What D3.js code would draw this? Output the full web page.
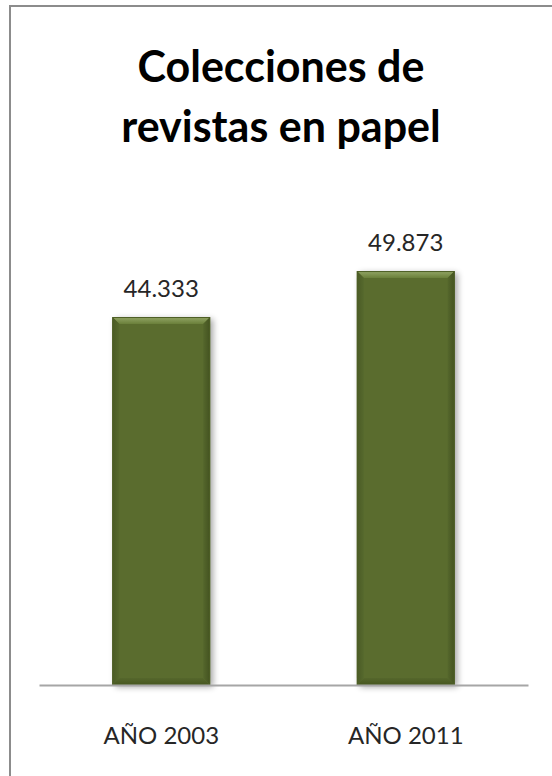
<!DOCTYPE html>
<html>
<head>
<meta charset="utf-8">
<script src="https://cdn.jsdelivr.net/npm/d3@7"></script>
<style>
  html, body { margin: 0; padding: 0; background: #fff; }
  svg { display: block; }
</style>
</head>
<body>
<svg id="chart" width="552" height="776"></svg>
<script>
// Chart data
const titleLines = ["Colecciones de", "revistas en papel"];
const categories = ["AÑO 2003", "AÑO 2011"];
const values = [44333, 49873];
const valueLabels = ["44.333", "49.873"];
const yDomainMax = 60000;

const W = 552, H = 776;
const plot = { left: 39, right: 528, top: 187, bottom: 685 };

const svg = d3.select("#chart");
const defs = svg.append("defs");

// Frame: grey rule along the top and left edges
svg.append("rect")
  .attr("x", 10).attr("y", 6)
  .attr("width", W + 10).attr("height", H + 10)
  .attr("fill", "#fff")
  .attr("stroke", "#8c8c8c")
  .attr("stroke-width", 2);

// Title
svg.append("text")
  .attr("text-anchor", "middle")
  .attr("font-family", "Lato, 'Open Sans', sans-serif")
  .attr("font-weight", "bold")
  .attr("font-size", 43)
  .attr("fill", "#000")
  .selectAll("tspan")
  .data(titleLines)
  .join("tspan")
  .attr("x", 281)
  .attr("y", (d, i) => 82 + i * 60)
  .text(d => d);

const x = d3.scaleBand()
  .domain(categories)
  .range([plot.left, plot.right])
  .paddingInner(0)
  .paddingOuter(0);

const y = d3.scaleLinear()
  .domain([0, yDomainMax])
  .range([plot.bottom, plot.top]);

const barFrac = 0.4;
const barW = x.bandwidth() * barFrac;

// Gradients for the bevelled bar faces
function linGrad(id, x1, y1, x2, y2, stops) {
  const g = defs.append("linearGradient").attr("id", id)
    .attr("x1", x1).attr("y1", y1).attr("x2", x2).attr("y2", y2);
  stops.forEach(s => g.append("stop").attr("offset", s[0]).attr("stop-color", s[1]).attr("stop-opacity", s[2] == null ? 1 : s[2]));
}
linGrad("gTop", 0, 0, 0, 1, [[0, "#93a666"], [1, "#6a7f3a"]]);
linGrad("gLeft", 0, 0, 1, 0, [[0, "#4a5a25"], [1, "#56692d"]]);
linGrad("gRight", 0, 0, 1, 0, [[0, "#55672c"], [1, "#435220"]]);
linGrad("gBottom", 0, 0, 0, 1, [[0, "#55672c"], [1, "#46561f"]]);

const shadow = defs.append("filter").attr("id", "shadow")
  .attr("x", "-20%").attr("y", "-10%").attr("width", "140%").attr("height", "130%");
shadow.append("feGaussianBlur").attr("in", "SourceAlpha").attr("stdDeviation", 3).attr("result", "b");
shadow.append("feOffset").attr("in", "b").attr("dx", 3).attr("dy", 2).attr("result", "o");
shadow.append("feComponentTransfer").attr("in", "o").attr("result", "s")
  .append("feFuncA").attr("type", "linear").attr("slope", 0.35);
const merge = shadow.append("feMerge");
merge.append("feMergeNode").attr("in", "s");
merge.append("feMergeNode").attr("in", "SourceGraphic");

const bars = svg.append("g").selectAll("g.bar")
  .data(categories.map((c, i) => ({ cat: c, v: values[i], label: valueLabels[i] })))
  .join("g")
  .attr("class", "bar");

const bev = 7;
bars.each(function(d) {
  const g = d3.select(this);
  const x0 = x(d.cat) + (x.bandwidth() - barW) / 2;
  const x1 = x0 + barW;
  const y0 = y(d.v);
  const y1 = y(0);
  // base face
  g.append("rect")
    .attr("x", x0).attr("y", y0)
    .attr("width", barW).attr("height", y1 - y0)
    .attr("fill", "#5a6c2f")
    .attr("filter", "url(#shadow)");
  // bevel edges
  g.append("path")
    .attr("d", `M${x0},${y0}L${x1},${y0}L${x1 - bev},${y0 + bev}L${x0 + bev},${y0 + bev}Z`)
    .attr("fill", "url(#gTop)");
  g.append("path")
    .attr("d", `M${x0},${y0}L${x0 + bev},${y0 + bev}L${x0 + bev},${y1 - bev}L${x0},${y1}Z`)
    .attr("fill", "url(#gLeft)");
  g.append("path")
    .attr("d", `M${x1},${y0}L${x1 - bev},${y0 + bev}L${x1 - bev},${y1 - bev}L${x1},${y1}Z`)
    .attr("fill", "url(#gRight)");
  g.append("path")
    .attr("d", `M${x0},${y1}L${x0 + bev},${y1 - bev}L${x1 - bev},${y1 - bev}L${x1},${y1}Z`)
    .attr("fill", "url(#gBottom)");
  // thin outline
  g.append("rect")
    .attr("x", x0 + 0.5).attr("y", y0 + 0.5)
    .attr("width", barW - 1).attr("height", y1 - y0 - 1)
    .attr("fill", "none")
    .attr("stroke", "#4d5e25")
    .attr("stroke-width", 1);
  // value label
  g.append("text")
    .attr("x", x(d.cat) + x.bandwidth() / 2)
    .attr("y", y0 - 20)
    .attr("text-anchor", "middle")
    .attr("font-family", "Lato, 'Open Sans', sans-serif")
    .attr("font-size", 24)
    .attr("fill", "#262626")
    .text(d.label);
});

// Category axis
const xAxis = svg.append("g")
  .attr("transform", `translate(0,${plot.bottom})`)
  .call(d3.axisBottom(x).tickSize(0).tickPadding(42));
xAxis.select(".domain")
  .attr("stroke", "#a6a6a6")
  .attr("stroke-width", 2);
xAxis.selectAll(".tick text")
  .attr("font-family", "Lato, 'Open Sans', sans-serif")
  .attr("font-size", 24)
  .attr("fill", "#262626");
</script>
</body>
</html>
